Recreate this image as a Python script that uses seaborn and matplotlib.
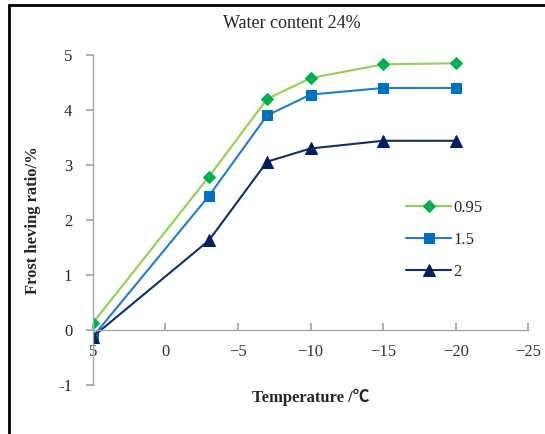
import matplotlib
matplotlib.use("Agg")
import matplotlib.pyplot as plt
import seaborn as sns
import pandas as pd
from matplotlib.lines import Line2D
from matplotlib.ticker import FixedLocator, FixedFormatter

sns.set_theme(style="white")
plt.rcParams['font.family'] = ['Liberation Serif', 'DejaVu Serif']

# data
temperature = [5, -3, -7, -10, -15, -20]
ratio_095 = [0.13, 2.79, 4.20, 4.58, 4.83, 4.85]
ratio_15 = [-0.12, 2.44, 3.90, 4.28, 4.40, 4.40]
ratio_2 = [-0.12, 1.63, 3.06, 3.30, 3.44, 3.44]
series_names = ['0.95', '1.5', '2']

x_ticks = [5, 0, -5, -10, -15, -20, -25]
x_tick_labels = ['5', '0', '\u22125', '\u221210', '\u221215', '\u221220', '\u221225']
y_ticks = [-1, 0, 1, 2, 3, 4, 5]
y_tick_labels = ['-1', '0', '1', '2', '3', '4', '5']

rows = []
for name, vals in zip(series_names, [ratio_095, ratio_15, ratio_2]):
    for t, v in zip(temperature, vals):
        rows.append({'T': t, 'ratio': v, 'series': name})
df = pd.DataFrame(rows)

line_colors = {'0.95': '#92D050', '1.5': '#1F7FC8', '2': '#0F2F6B'}
marker_colors = {'0.95': '#00B050', '1.5': '#0070C0', '2': '#002060'}
markers = {'0.95': 'D', '1.5': 's', '2': '^'}
msizes = {'0.95': 6.5, '1.5': 7, '2': 8}

fig = plt.figure(figsize=(5.45, 4.34), dpi=100)
ax = fig.add_axes([0.1706, 0.1129, 0.7984, 0.7604])

for name in series_names:
    sub = df[df['series'] == name]
    sns.lineplot(data=sub, x='T', y='ratio', ax=ax, color=line_colors[name],
                 linewidth=1.5, marker=markers[name], markersize=msizes[name],
                 markerfacecolor=marker_colors[name], markeredgecolor=marker_colors[name],
                 label=name, sort=False)

ax.set_xlim(5, -25)
ax.set_ylim(-1, 5)

for s in ['top', 'right']:
    ax.spines[s].set_visible(False)
ax.spines['bottom'].set_position(('data', 0))
ax.spines['bottom'].set_color('#A6A6A6')
ax.spines['left'].set_color('#A6A6A6')
ax.spines['bottom'].set_linewidth(1.0)
ax.spines['left'].set_linewidth(1.0)

ax.xaxis.set_major_locator(FixedLocator(x_ticks))
ax.xaxis.set_major_formatter(FixedFormatter(x_tick_labels))
ax.yaxis.set_major_locator(FixedLocator(y_ticks))
ax.yaxis.set_major_formatter(FixedFormatter(y_tick_labels))
ax.tick_params(axis='x', direction='in', length=5, color='#A6A6A6', pad=10,
               labelsize=12, labelcolor='#333333', bottom=True)
ax.tick_params(axis='y', direction='out', length=5, color='#A6A6A6', pad=10,
               labelsize=12, left=True)

ax.set_xlabel('Temperature /\u2103', fontsize=12, fontweight='bold',
              family=['Liberation Serif', 'Noto Sans CJK SC'])
ax.xaxis.set_label_coords(0.5, -0.01)
ax.set_ylabel('Frost heving ratio/%', fontsize=12, fontweight='bold', labelpad=12)
fig.text(0.536, 0.945, 'Water content 24%', ha='center', va='center', fontsize=13)

ax.legend(loc='upper left', bbox_to_anchor=(0.705, 0.58), frameon=False,
          fontsize=12, handlelength=2.7, handletextpad=0.1, labelspacing=0.95,
          borderaxespad=0)

# black frame on top and left, like the pasted source
fig.add_artist(Line2D([0.016, 0.016], [0, 0.988], transform=fig.transFigure,
                      color='black', linewidth=2))
fig.add_artist(Line2D([0.016, 1.0], [0.988, 0.988], transform=fig.transFigure,
                      color='black', linewidth=2))

fig.savefig('out.png', dpi=100)
